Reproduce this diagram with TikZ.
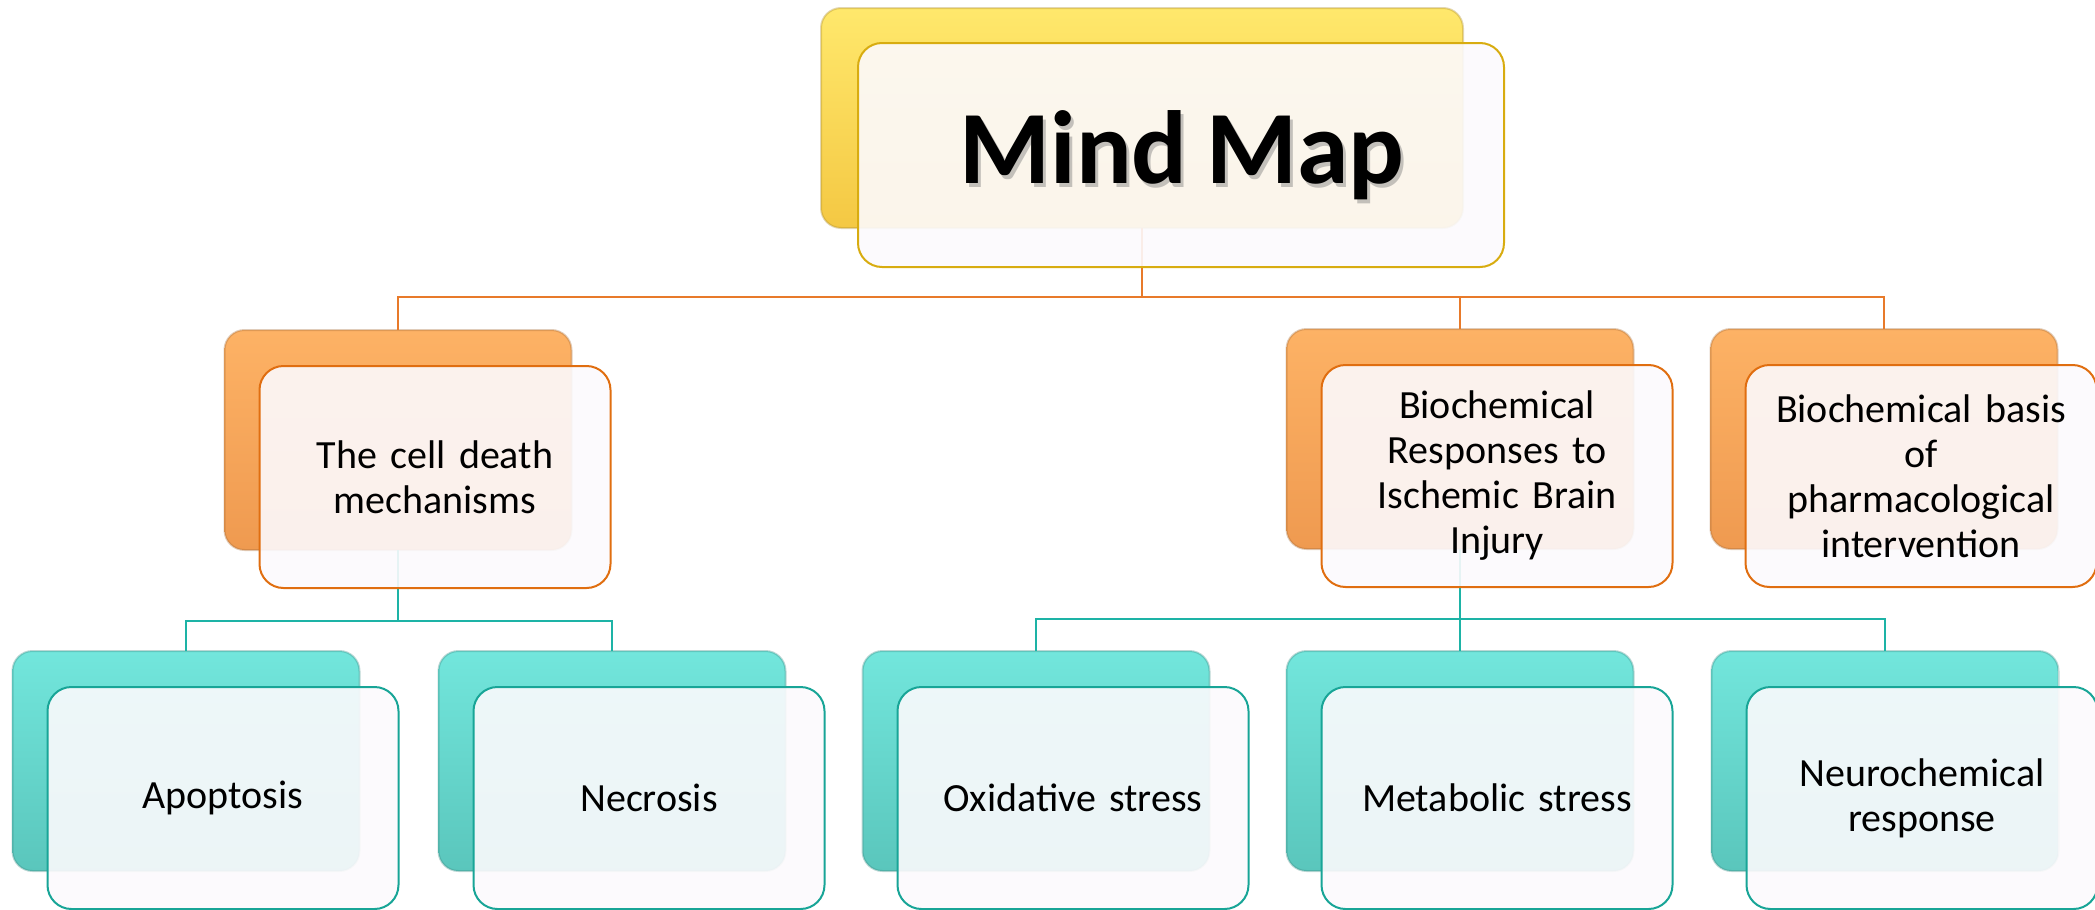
\documentclass[tikz,border=0pt]{standalone}
\usepackage{fontspec}
\setmainfont{Carlito}[WordSpace={0.8,0,0}]
\usetikzlibrary{shadings}
\definecolor{yelA}{HTML}{FFE86C}
\definecolor{yelB}{HTML}{F4C843}
\definecolor{yelD}{HTML}{D8AC10}
\definecolor{orA}{HTML}{FDB265}
\definecolor{orB}{HTML}{EF9A50}
\definecolor{orD}{HTML}{E06E10}
\definecolor{orL}{HTML}{E87A2A}
\definecolor{teA}{HTML}{72E6DC}
\definecolor{teB}{HTML}{5AC6BC}
\definecolor{teD}{HTML}{18A597}
\definecolor{teL}{HTML}{1DB3A6}
\definecolor{frontfill}{HTML}{FCFAFD}
\begin{document}
\begin{tikzpicture}[x=0.5pt,y=-0.5pt,
  backbox/.style={rectangle, rounded corners=10pt, inner sep=0pt, outer sep=0pt,
    minimum width=173.5pt, minimum height=110pt, line width=1pt, draw opacity=0.35},
  ybk/.style={backbox, top color=yelA, bottom color=yelB, draw=yelB!70!black, minimum width=321pt},
  obk/.style={backbox, top color=orA, bottom color=orB, draw=orB!70!black},
  tbk/.style={backbox, top color=teA, bottom color=teB, draw=teB!70!black},
  frontbox/.style={rectangle, rounded corners=12pt, inner sep=0pt, outer sep=0pt,
    minimum width=175.5pt, minimum height=111pt, fill=frontfill, fill opacity=0.9,
    text opacity=1, line width=1pt, align=center, text width=165pt,
    font=\fontsize{20}{22.5}\selectfont},
  yfr/.style={frontbox, draw=yelD, minimum width=323pt, minimum height=112pt, text width=310pt},
  ofr/.style={frontbox, draw=orD},
  tfr/.style={frontbox, draw=teD},
  obus/.style={draw=orL, line width=1pt},
  tbus/.style={draw=teL, line width=1.3pt},
  titletext/.style={font=\fontsize{52}{56}\selectfont\bfseries, inner sep=0pt}
]
\useasboundingbox (0,0) rectangle (2095,910);

% back boxes
\node[ybk] (rootB) at (1142,118) {};
\node[obk] (cdB) at (398,440) {};
\node[obk] (brB) at (1460,439) {};
\node[obk] (phB) at (1884,439) {};
\node[tbk] (apB) at (186,761) {};
\node[tbk] (neB) at (612,761) {};
\node[tbk] (oxB) at (1036,761) {};
\node[tbk] (meB) at (1460,761) {};
\node[tbk] (ncB) at (1885,761) {};

% connectors
\coordinate (j0) at (1142,297);
\coordinate (j1) at (398,621);
\coordinate (j2) at (1460,619);
\draw[obus] (rootB.south) -- (j0);
\draw[obus] (j0) -| (cdB.north);
\draw[obus] (j0) -| (brB.north);
\draw[obus] (j0) -| (phB.north);
\draw[tbus] (cdB.south) -- (j1);
\draw[tbus] (j1) -| (apB.north);
\draw[tbus] (j1) -| (neB.north);
\draw[tbus] (brB.south) -- (j2);
\draw[tbus] (j2) -| (oxB.north);
\draw[tbus] (j2) -- (meB.north);
\draw[tbus] (j2) -| (ncB.north);

% front boxes
\node[yfr] (rootF) at (1181,155) {};
\node[titletext, text=black!50, opacity=0.45] (rootSh) at (1185,159) {Mind Map};
\node[titletext] (rootT) at (1182,155) {Mind Map};
\node[ofr] (cdF) at (435,477) {The cell death\\mechanisms};
\node[ofr] (brF) at (1497,476) {Biochemical\\Responses to\\Ischemic Brain\\Injury};
\node[ofr] (phF) at (1921,476) {Biochemical basis\\of\\pharmacological\\intervention};
\node[tfr] (apF) at (223,798) {Apoptosis};
\node[tfr] (neF) at (649,798) {Necrosis};
\node[tfr] (oxF) at (1073,798) {Oxidative stress};
\node[tfr] (meF) at (1497,798) {Metabolic stress};
\node[tfr] (ncF) at (1922,798) {Neurochemical\\response};
\end{tikzpicture}
\end{document}
